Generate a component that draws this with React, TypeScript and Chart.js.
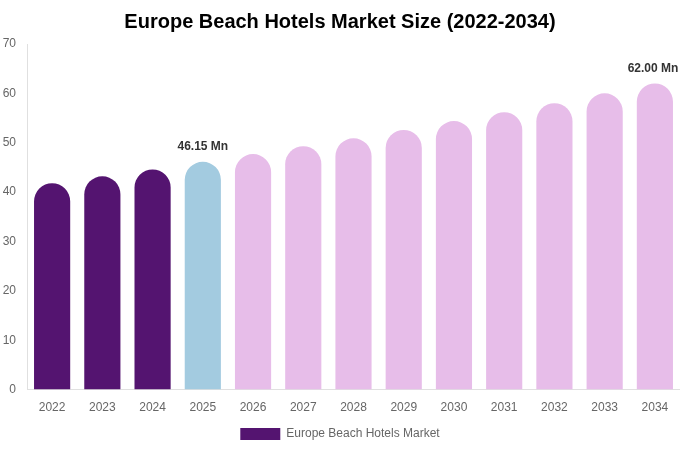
import { useEffect, useRef } from 'react';
import { Chart, registerables } from 'chart.js';
Chart.register(...registerables);

const years = ['2022', '2023', '2024', '2025', '2026', '2027', '2028', '2029', '2030', '2031', '2032', '2033', '2034'];
const marketSize = [41.8, 43.2, 44.6, 46.15, 47.7, 49.3, 50.9, 52.6, 54.4, 56.2, 58.0, 60.0, 62.0];
const labelledYears = ['2025', '2034'];
const seriesName = 'Europe Beach Hotels Market';

const HIST = '#541470';
const BASE = '#a3cbe0';
const FORE = '#e7bde9';

const barColor = (y: string) => (Number(y) < 2025 ? HIST : Number(y) === 2025 ? BASE : FORE);

const valueLabels = {
  id: 'valueLabels',
  afterDatasetsDraw(chart: any) {
    const { ctx } = chart;
    const meta = chart.getDatasetMeta(0);
    ctx.save();
    ctx.font = 'bold 12px "Liberation Sans", Arial, sans-serif';
    ctx.fillStyle = '#333';
    ctx.textAlign = 'center';
    ctx.textBaseline = 'bottom';
    years.forEach((y, i) => {
      if (!labelledYears.includes(y)) return;
      const bar = meta.data[i];
      ctx.fillText(marketSize[i].toFixed(2) + ' Mn', Math.min(bar.x, 653), bar.y - 9);
    });
    ctx.restore();
  },
};

export default function App() {
  const ref = useRef<HTMLCanvasElement | null>(null);
  useEffect(() => {
    if (!ref.current) return;
    Chart.defaults.font.family = '"Liberation Sans", Arial, sans-serif';
    const chart = new Chart(ref.current, {
      type: 'bar',
      data: {
        labels: years,
        datasets: [{
          label: seriesName,
          data: marketSize,
          backgroundColor: years.map(barColor),
          borderWidth: 0,
          borderRadius: 50,
          barPercentage: 0.9,
          categoryPercentage: 0.8,
        }],
      },
      options: {
        animation: false,
        responsive: false,
        layout: { padding: 0 },
        plugins: {
          title: {
            display: true,
            text: 'Europe Beach Hotels Market Size (2022-2034)',
            color: '#000',
            font: { size: 20, weight: 'bold' },
            padding: { top: 10, bottom: 10 },
          },
          legend: {
            position: 'bottom',
            labels: { color: '#666', boxWidth: 40, boxHeight: 12, font: { size: 12 } },
          },
          tooltip: { enabled: false },
        },
        scales: {
          x: {
            grid: { display: false },
            border: { color: '#e0e0e0' },
            ticks: { color: '#666', font: { size: 12 }, padding: 3 },
            afterFit: (s: any) => { s.paddingLeft = 0; s.paddingRight = 0; },
          },
          y: {
            min: 0,
            max: 70,
            grid: { display: false, drawTicks: false },
            border: { color: '#e0e0e0' },
            ticks: { stepSize: 10, color: '#666', font: { size: 12 }, padding: 11 },
            afterFit: (s: any) => { s.width = 27; },
          },
        },
      },
      plugins: [valueLabels],
    });
    return () => chart.destroy();
  }, []);
  return (
    <div style={{ position: 'absolute', left: 0, top: 0, width: 680, height: 450 }}>
      <canvas ref={ref} width={680} height={450} style={{ width: 680, height: 450 }} />
    </div>
  );
}
